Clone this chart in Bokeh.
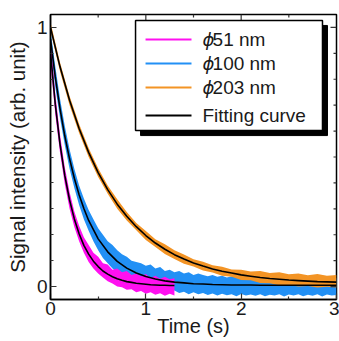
from bokeh.plotting import figure
from bokeh.models import Range1d, FixedTicker
from bokeh.embed import file_html
from bokeh.resources import INLINE
from bokeh.core.properties import value

# ---------------- data ----------------
t_mag = [0, .05, .1, .15, .2, .25, .3, .35, .4, .45, .5, .55, .6, .65, .7, .75,
         .8, .85, .9, .95, 1.0, 1.05, 1.1, 1.15, 1.2, 1.25, 1.3]
mag_hi = [.95, .745, .585, .46, .365, .29, .235, .19, .16, .13, .115, .09, .085, .065,
          .07, .055, .06, .045, .05, .04, .048, .033, .042, .03, .038, .028, .032]
mag_lo = [.86, .665, .515, .395, .30, .23, .175, .13, .095, .07, .05, .035, .02, .012,
          .0, -.003, -.012, -.01, -.022, -.017, -.028, -.022, -.032, -.026, -.036, -.028, -.035]
fit_mag = [.903, .704, .549, .428, .334, .261, .204, .159, .125, .098, .077, .060, .048,
           .038, .030, .024, .019, .016, .013, .011, .009, .007, .006, .005, .005, .004, .004]

t_blue = [0, .05, .1, .15, .2, .25, .3, .35, .4, .45, .5, .55, .6, .65, .7, .75, .8, .85,
          .9, .95, 1.0, 1.05, 1.1, 1.15, 1.2, 1.25, 1.3, 1.35, 1.4, 1.45, 1.5, 1.55, 1.6,
          1.65, 1.7, 1.75, 1.8, 1.85, 1.9, 1.95, 2.0, 2.05, 2.1, 2.15, 2.2, 2.25, 2.3, 2.35,
          2.4, 2.45, 2.5, 2.55, 2.6, 2.65, 2.7, 2.75, 2.8, 2.85, 2.9, 2.95, 3.0]
blue_hi = [.99, .85, .725, .62, .53, .455, .39, .34, .295, .26, .225, .20, .175, .16, .14,
           .125, .115, .10, .095, .09, .08, .085, .07, .075, .06, .065, .055, .06, .05, .055,
           .045, .05, .045, .04, .045, .038, .042, .035, .04, .036, .04, .033, .038, .035,
           .04, .032, .037, .034, .03, .036, .033, .038, .031, .035, .03, .036, .032, .037,
           .03, .034, .032]
blue_lo = [.92, .77, .65, .545, .455, .38, .315, .26, .215, .175, .14, .11, .09, .07, .055,
           .04, .03, .02, .015, .005, .0, -.01, -.005, -.015, -.01, -.02, -.015, -.025, -.02,
           -.03, -.022, -.03, -.025, -.033, -.027, -.035, -.028, -.034, -.03, -.037, -.029,
           -.035, -.031, -.036, -.03, -.037, -.032, -.035, -.03, -.038, -.031, -.035, -.03,
           -.037, -.032, -.036, -.03, -.038, -.031, -.035, -.033]
t_blue_fit = [0, .05, .1, .15, .2, .25, .3, .35, .4, .5, .6, .7, .8, .9, 1.0, 1.1, 1.2,
              1.3, 1.4, 1.5, 1.6, 1.7, 1.8, 1.9, 2.0, 2.1, 2.2, 2.3, 2.4, 2.5, 2.6, 2.7,
              2.8, 2.9, 3.0]
fit_blue = [.955, .809, .686, .581, .493, .418, .354, .301, .255, .184, .134, .097, .071,
            .052, .039, .029, .022, .017, .014, .011, .010, .008, .007, .006, .006, .006,
            .005, .005, .005, .005, .005, .005, .005, .005, .005]

t_org = [0, .1, .2, .3, .4, .5, .6, .7, .8, .9, 1.0, 1.1, 1.2, 1.3, 1.4, 1.5, 1.6, 1.7,
         1.8, 1.9, 2.0, 2.1, 2.2, 2.3, 2.4, 2.5, 2.6, 2.7, 2.8, 2.9, 3.0]
org_hi = [1.02, .865, .735, .627, .535, .457, .39, .337, .288, .245, .214, .183, .163, .14,
          .124, .105, .096, .082, .076, .066, .065, .058, .06, .052, .055, .047, .05, .044,
          .048, .042, .045]
org_lo = [.985, .83, .70, .593, .50, .423, .358, .300, .255, .217, .180, .153, .126, .106,
          .088, .077, .062, .054, .042, .038, .025, .024, .014, .013, .005, .006, .0, .002,
          -.004, -.001, -.004]
fit_org = [1.0, .848, .719, .610, .518, .440, .374, .318, .271, .231, .197, .168, .144,
           .123, .106, .091, .079, .068, .059, .052, .045, .040, .035, .031, .028, .025,
           .023, .021, .019, .018, .017]

series_labels = ["51 nm", "100 nm", "203 nm"]
fit_label = "Fitting curve"
x_title = "Time (s)"
y_title = "Signal intensity (arb. unit)"
x_ticks = [0, 1, 2, 3]
x_minor = [0.5, 1.5, 2.5]
y_ticks = [0, 1]
y_minor = [0.1, 0.2, 0.3, 0.4, 0.5, 0.6, 0.7, 0.8, 0.9]

C_MAG = "#FF10F0"
C_BLUE = "#2290F5"
C_ORG = "#F39425"
FONT = "Liberation Sans"
TXT = "#1a1a1a"

X0, X1, Y0, Y1 = 0.0, 3.0, -0.05, 1.05
p = figure(width=339, height=341, output_backend="svg", toolbar_location=None,
           x_range=Range1d(X0, X1), y_range=Range1d(Y0, Y1),
           min_border_left=50, min_border_right=3, min_border_top=14, min_border_bottom=42)
p.grid.visible = False
p.outline_line_color = "black"
p.outline_line_width = 1.5
p.background_fill_color = "white"
p.border_fill_color = "white"

# data bands
p.varea(x=t_blue, y1=blue_lo, y2=blue_hi, fill_color=C_BLUE)
p.varea(x=t_mag, y1=mag_lo, y2=mag_hi, fill_color=C_MAG)
p.varea(x=t_org, y1=org_lo, y2=org_hi, fill_color=C_ORG)
# fits
p.line(t_blue_fit, fit_blue, line_color="black", line_width=1.6)
p.line(t_mag, fit_mag, line_color="black", line_width=1.6)
p.line(t_org, fit_org, line_color="black", line_width=1.6)

# axes styling
def style_axis(ax, ticks, minor):
    ax.ticker = FixedTicker(ticks=ticks, minor_ticks=minor)
    ax.major_tick_in = 6
    ax.major_tick_out = 0
    ax.minor_tick_in = 3
    ax.minor_tick_out = 0
    ax.axis_line_color = "black"
    ax.axis_line_width = 1.5
    ax.major_tick_line_color = "#333333"
    ax.minor_tick_line_color = "#333333"
    ax.major_tick_line_width = 1.2
    ax.minor_tick_line_width = 1.2
    ax.major_label_text_font = FONT
    ax.major_label_text_color = TXT
    ax.major_label_text_font_size = "19px"
    ax.axis_label_text_font = FONT
    ax.axis_label_text_color = TXT
    ax.axis_label_text_font_style = "normal"

style_axis(p.xaxis[0], x_ticks, x_minor)
style_axis(p.yaxis[0], y_ticks, y_minor)
p.xaxis[0].axis_label = x_title
p.yaxis[0].axis_label = y_title
p.xaxis[0].axis_label_text_font_size = "20px"
p.yaxis[0].axis_label_text_font_size = "20.5px"
p.xaxis[0].major_label_standoff = 2
p.xaxis[0].axis_label_standoff = -3
p.yaxis[0].major_label_standoff = 3
p.yaxis[0].axis_label_standoff = 5

# mirrored ticks on top and right edges
px_x = (X1 - X0) / 286.0
px_y = (Y1 - Y0) / 285.0
top_major = [t for t in x_ticks if X0 < t < X1]
p.segment(x0=top_major, x1=top_major, y0=[Y1] * len(top_major),
          y1=[Y1 - 6 * px_y] * len(top_major), line_color="#333333", line_width=1.2)
p.segment(x0=x_minor, x1=x_minor, y0=[Y1] * len(x_minor),
          y1=[Y1 - 3 * px_y] * len(x_minor), line_color="#333333", line_width=1.2)
p.segment(x0=[X1] * len(y_ticks), x1=[X1 - 6 * px_x] * len(y_ticks), y0=y_ticks,
          y1=y_ticks, line_color="#333333", line_width=1.2)
p.segment(x0=[X1] * len(y_minor), x1=[X1 - 3 * px_x] * len(y_minor), y0=y_minor,
          y1=y_minor, line_color="#333333", line_width=1.2)

# legend (drawn by hand, in data coordinates)
lx0, lx1, ly0, ly1 = 0.892, 2.853, 0.602, 1.027
dx, dy = 5 * px_x, 5 * px_y
p.quad(left=lx0 + dx, right=lx1 + dx, bottom=ly0 - dy, top=ly1 - dy,
       fill_color="black", line_color="black")
p.quad(left=lx0, right=lx1, bottom=ly0, top=ly1, fill_color="white",
       line_color="black", line_width=1.5)
rows = [0.9535, 0.861, 0.768, 0.660]
cols = [C_MAG, C_BLUE, C_ORG, "black"]
p.segment(x0=[0.997] * 4, x1=[1.479] * 4, y0=rows, y1=rows, line_color=cols, line_width=2)
p.text(x=[1.594] * 3, y=rows[:3], text=["ϕ"] * 3, text_font=value("DejaVu Sans"),
       text_font_style="italic", text_font_size="18px", text_baseline="middle",
       text_color=TXT)
p.text(x=[1.70] * 3, y=rows[:3], text=series_labels, text_font=value(FONT),
       text_font_size="19px", text_baseline="middle", text_color=TXT)
p.text(x=[1.594], y=[rows[3]], text=[fit_label], text_font=value(FONT),
       text_font_size="19px", text_baseline="middle", text_color=TXT)

open("out.html", "w").write(file_html(p, INLINE))
